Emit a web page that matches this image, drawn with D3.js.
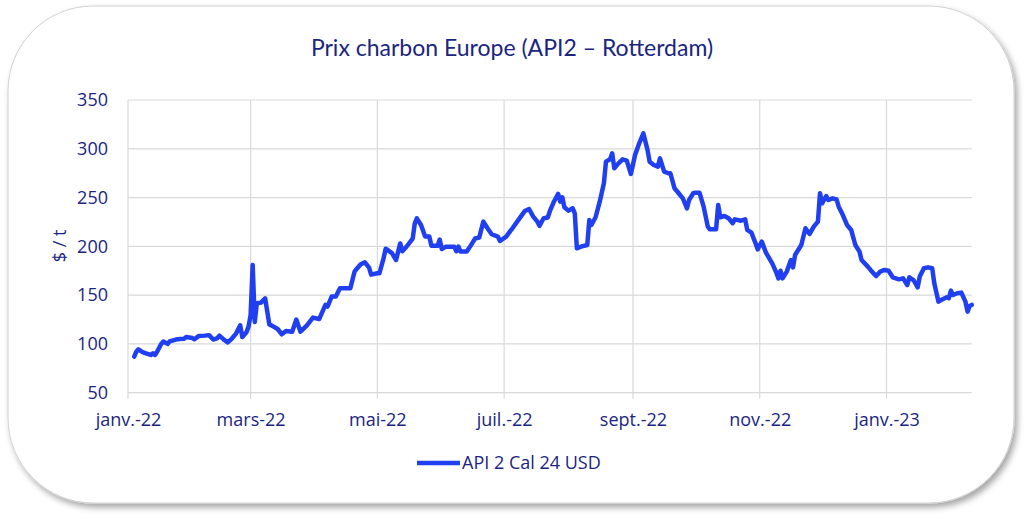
<!DOCTYPE html>
<html><head><meta charset="utf-8">
<script src="https://cdn.jsdelivr.net/npm/d3@7/dist/d3.min.js"></script>
<style>
html,body{margin:0;padding:0;background:#fff;}
svg{display:block;}
text{font-family:"Open Sans","Noto Sans",sans-serif;}
</style></head>
<body>
<svg id="chart" width="1024" height="518"></svg>
<script>
const title = "Prix charbon Europe (API2 – Rotterdam)";
const yTitle = "$ / t";
const seriesName = "API 2 Cal 24 USD";
const xTickDates = ["2022-01-01","2022-03-01","2022-05-01","2022-07-01","2022-09-01","2022-11-01","2023-01-01"];
const xTickLabels = ["janv.-22","mars-22","mai-22","juil.-22","sept.-22","nov.-22","janv.-23"];
const yTicks = [50,100,150,200,250,300,350];
const xDomain = ["2022-01-01","2023-02-11"];

const dates = [
"2022-01-04","2022-01-05","2022-01-06","2022-01-08","2022-01-10","2022-01-12","2022-01-13","2022-01-14","2022-01-15","2022-01-17",
"2022-01-18","2022-01-20","2022-01-21","2022-01-24","2022-01-26","2022-01-28","2022-01-29","2022-02-01","2022-02-02","2022-02-04",
"2022-02-07","2022-02-09","2022-02-11","2022-02-13","2022-02-14","2022-02-16","2022-02-18","2022-02-20","2022-02-22","2022-02-24",
"2022-02-25","2022-02-27","2022-02-28","2022-03-01","2022-03-02","2022-03-03","2022-03-04","2022-03-06","2022-03-08","2022-03-10",
"2022-03-11","2022-03-14","2022-03-16","2022-03-18","2022-03-21","2022-03-23","2022-03-25","2022-03-28","2022-03-31","2022-04-03",
"2022-04-06","2022-04-07","2022-04-09","2022-04-11","2022-04-13","2022-04-18","2022-04-20","2022-04-21","2022-04-23","2022-04-25",
"2022-04-27","2022-04-28","2022-05-01","2022-05-02","2022-05-04","2022-05-05","2022-05-08","2022-05-10","2022-05-11","2022-05-12",
"2022-05-13","2022-05-15","2022-05-18","2022-05-19","2022-05-20","2022-05-22","2022-05-24","2022-05-26","2022-05-27","2022-05-30",
"2022-05-31","2022-06-01","2022-06-03","2022-06-07","2022-06-08","2022-06-09","2022-06-10","2022-06-13","2022-06-15","2022-06-17",
"2022-06-19","2022-06-21","2022-06-23","2022-06-25","2022-06-28","2022-06-29","2022-07-02","2022-07-04","2022-07-05","2022-07-09",
"2022-07-11","2022-07-13","2022-07-15","2022-07-17","2022-07-18","2022-07-20","2022-07-22","2022-07-23","2022-07-25","2022-07-27",
"2022-07-28","2022-07-29","2022-07-30","2022-08-01","2022-08-03","2022-08-04","2022-08-05","2022-08-07","2022-08-10","2022-08-11",
"2022-08-12","2022-08-14","2022-08-16","2022-08-18","2022-08-19","2022-08-21","2022-08-22","2022-08-23","2022-08-25","2022-08-27",
"2022-08-29","2022-08-31","2022-09-02","2022-09-04","2022-09-06","2022-09-08","2022-09-09","2022-09-11","2022-09-13","2022-09-14",
"2022-09-16","2022-09-18","2022-09-19","2022-09-21","2022-09-23","2022-09-25","2022-09-27","2022-09-28","2022-09-30","2022-10-01",
"2022-10-03","2022-10-05","2022-10-07","2022-10-08","2022-10-11","2022-10-12","2022-10-13","2022-10-15","2022-10-17","2022-10-19",
"2022-10-20","2022-10-23","2022-10-25","2022-10-26","2022-10-28","2022-10-30","2022-10-31","2022-11-02","2022-11-04","2022-11-07",
"2022-11-09","2022-11-10","2022-11-11","2022-11-12","2022-11-14","2022-11-16","2022-11-17","2022-11-18","2022-11-21","2022-11-23",
"2022-11-25","2022-11-27","2022-11-29","2022-11-30","2022-12-01","2022-12-03","2022-12-04","2022-12-06","2022-12-08","2022-12-09",
"2022-12-11","2022-12-13","2022-12-15","2022-12-17","2022-12-19","2022-12-20","2022-12-23","2022-12-25","2022-12-27","2022-12-29",
"2022-12-31","2023-01-02","2023-01-04","2023-01-07","2023-01-09","2023-01-11","2023-01-12","2023-01-14","2023-01-16","2023-01-17",
"2023-01-19","2023-01-21","2023-01-23","2023-01-24","2023-01-26","2023-01-28","2023-01-30","2023-01-31","2023-02-01","2023-02-02",
"2023-02-04","2023-02-06","2023-02-08","2023-02-09","2023-02-10","2023-02-11"
];
const prices = [
87,92,94.5,91.6,90,88.7,90.4,88.7,92,100,
102.5,100,102.5,104.5,105,105.3,107,106,104.7,108,
108.5,109,104.5,106,108.5,104.7,101.5,105.5,110.6,119,
107,112,117.7,129.6,181,122.5,141.7,142.3,146.7,120,
119,115.3,109.9,113.2,112.5,125,112.5,118.8,127,125.5,
140,138.3,148.5,148.5,157,157,174,176.8,181.6,183.7,
178.2,171,172.4,172.4,188,197.6,193,186,194.6,203,
195,199.6,208,223.6,228.7,221.9,210,210,200.6,200.6,
207,197.3,199.7,199.7,195,199.7,194.6,194.6,201,208,
209,225.3,218.5,212.4,210,205.5,210,215.8,218.5,230.5,
236.3,238.3,230.5,225.3,221,228.8,229.5,236,246,253.7,
245.8,250.3,240,236.6,239,233.9,198,199.7,201.4,227,
221.9,229.8,245.8,264.7,286.8,289.2,295.4,280,285.1,289.2,
287.8,274.2,293.6,305.6,315.8,298.8,286.8,283.4,281.7,290.2,
276.6,274.9,274.9,259.5,254.4,249.2,239,247.5,254.4,255,
255,240.7,220.2,217.5,217.5,242.4,229.8,231.1,228.8,223.7,
227.7,226.3,227.7,216.8,214,203.1,196.9,204.8,193.5,182.6,
173,167.2,175,167.2,174.1,186,178.5,191.1,201.4,218.5,
212.7,220.2,225.3,254.4,244.1,251.6,247.5,249.2,248,240.7,
232.1,221.9,216.8,201.4,194.6,186,179.2,174.1,169.6,174.1,
175.8,175,168.3,166.2,167.2,160.4,168.3,165.5,158,169,
177.5,178.5,177.5,162.1,143.3,145.8,147.8,146.8,154.6,150.1,
151.9,152.6,143.3,133.1,138.9,140
];

const parse = d3.utcParse("%Y-%m-%d");
const data = dates.map((d,i)=>({date:parse(d), value:prices[i]}));

const svg = d3.select("#chart");
const textColor = "#1b2580";
const lineColor = "#1f3ff0";
const gridColor = "#d9d9d9";

// frame with shadow
const defs = svg.append("defs");
const f = defs.append("filter").attr("id","sh").attr("x","-5%").attr("y","-5%").attr("width","110%").attr("height","115%");
f.append("feDropShadow").attr("dx",3).attr("dy",4).attr("stdDeviation",3).attr("flood-color","#000").attr("flood-opacity",0.35);
svg.append("rect").attr("x",8).attr("y",6).attr("width",1006).attr("height",497)
  .attr("rx",85).attr("ry",85).attr("fill","#fff").attr("stroke","#d0d0d0").attr("stroke-width",1).attr("filter","url(#sh)");

const x = d3.scaleUtc().domain(xDomain.map(parse)).range([128, 971.7]);
const y = d3.scaleLinear().domain([50,350]).range([392.7,100]);

// grid
svg.append("g").selectAll("line").data(yTicks).join("line")
  .attr("x1",x.range()[0]).attr("x2",x.range()[1])
  .attr("y1",d=>y(d)).attr("y2",d=>y(d))
  .attr("stroke",gridColor).attr("stroke-width",1.2);
svg.append("g").selectAll("line").data(xTickDates).join("line")
  .attr("x1",d=>x(parse(d))).attr("x2",d=>x(parse(d)))
  .attr("y1",y(350)).attr("y2",y(50)+6)
  .attr("stroke",gridColor).attr("stroke-width",1.2);

// axes
const xAxis = d3.axisBottom(x).tickValues(xTickDates.map(parse))
  .tickFormat((d,i)=>xTickLabels[i]).tickSize(0).tickPadding(21);
const gx = svg.append("g").attr("transform",`translate(0,${y(50)})`).call(xAxis);
gx.select(".domain").remove();
gx.selectAll("text").attr("fill",textColor).style("font-size","18px");

const yAxis = d3.axisLeft(y).tickValues(yTicks).tickSize(0).tickPadding(20);
const gy = svg.append("g").attr("transform",`translate(${x.range()[0]},0)`).call(yAxis);
gy.select(".domain").remove();
gy.selectAll("text").attr("fill",textColor).style("font-size","18px");

// line
const line = d3.line().x(d=>x(d.date)).y(d=>y(d.value));
svg.append("path").datum(data).attr("d",line)
  .attr("fill","none").attr("stroke",lineColor).attr("stroke-width",4.5)
  .attr("stroke-linejoin","round").attr("stroke-linecap","round");

// title
svg.append("text").attr("x",512).attr("y",56).attr("text-anchor","middle")
  .attr("fill",textColor).style("font-size","23px").style("font-family","Lato, 'Open Sans', sans-serif").text(title);

// y title
svg.append("text").attr("transform","translate(66,246) rotate(-90)").attr("text-anchor","middle")
  .attr("fill",textColor).style("font-size","18px").text(yTitle);

// legend
const lg = svg.append("g").attr("transform","translate(417,463)");
lg.append("line").attr("x1",0).attr("x2",43).attr("y1",0).attr("y2",0)
  .attr("stroke",lineColor).attr("stroke-width",4.5);
lg.append("text").attr("x",45).attr("y",0).attr("dy","0.35em")
  .attr("fill",textColor).style("font-size","18px").text(seriesName);
</script>
</body></html>
